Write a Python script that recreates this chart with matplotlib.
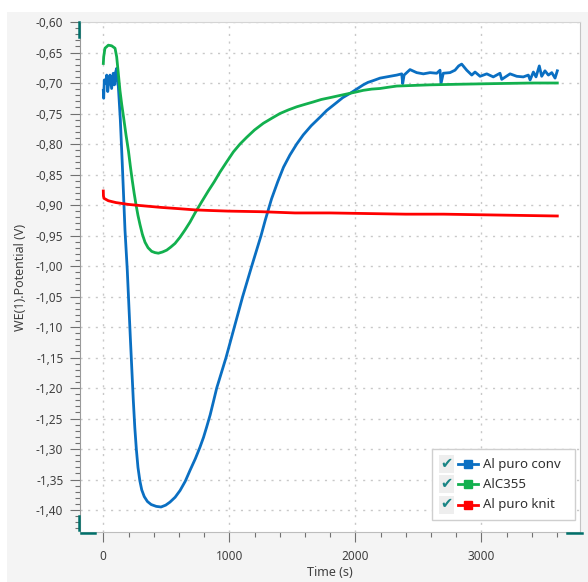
import matplotlib.pyplot as plt
from matplotlib.lines import Line2D
from matplotlib.patches import Rectangle
from matplotlib.ticker import MultipleLocator, FuncFormatter

plt.rcParams['font.family'] = ['Noto Sans', 'DejaVu Sans']

# potential vs time for the three samples
series_names = ['Al puro conv', 'AlC355', 'Al puro knit']
series_colors = ['#0a6fc2', '#12b04e', '#ff0000']

conv_t = [0, 3, 8, 18, 27, 35, 45, 53, 66, 79, 88, 98, 106, 114, 119, 125, 135,
          150, 160, 172, 190, 215, 238, 250, 262, 275, 290, 305, 325, 350, 380,
          420, 458, 495, 529, 570, 609, 650, 688, 730, 767, 795, 820, 848, 873,
          900, 937, 974, 1007, 1040, 1073, 1106, 1142, 1178, 1215, 1252, 1285,
          1335, 1384, 1430, 1481, 1535, 1587, 1650, 1720, 1773, 1852, 1900, 1958,
          2011, 2063, 2100, 2143, 2196, 2275, 2329,
          2368, 2376, 2387, 2434, 2487, 2540, 2593, 2646, 2672, 2680, 2698, 2751,
          2791, 2820, 2844, 2884, 2924, 2950, 2990, 3043, 3095, 3148, 3162, 3228,
          3281, 3333, 3373, 3387, 3413, 3434, 3460, 3479, 3505, 3532, 3559, 3585,
          3603]
conv_v = [-0.712, -0.725, -0.695, -0.700, -0.687, -0.714, -0.695, -0.687, -0.709,
          -0.684, -0.703, -0.682, -0.676, -0.701, -0.705, -0.725, -0.760, -0.830,
          -0.880, -0.941, -1.006, -1.120, -1.220, -1.265, -1.300, -1.330, -1.352,
          -1.367, -1.378, -1.386, -1.391, -1.394, -1.395, -1.392, -1.387, -1.379,
          -1.368, -1.353, -1.335, -1.316, -1.297, -1.281, -1.264, -1.244, -1.223,
          -1.200, -1.175, -1.150, -1.125, -1.100, -1.075, -1.050, -1.025, -1.000,
          -0.975, -0.950, -0.925, -0.890, -0.862, -0.838, -0.818, -0.800, -0.785,
          -0.770, -0.756, -0.745, -0.732, -0.724, -0.717, -0.710, -0.703, -0.699,
          -0.696, -0.692, -0.689, -0.687,
          -0.685, -0.701, -0.687, -0.678, -0.683, -0.685, -0.683, -0.684, -0.679,
          -0.701, -0.684, -0.683, -0.679, -0.672, -0.669, -0.679, -0.687, -0.682,
          -0.689, -0.685, -0.690, -0.684, -0.694, -0.685, -0.689, -0.690, -0.687,
          -0.695, -0.682, -0.690, -0.672, -0.689, -0.680, -0.687, -0.683, -0.692,
          -0.680]

c355_t = [0, 3, 13, 40, 66, 93, 106, 119, 132, 146, 160, 180, 200, 215, 230, 245,
          260, 275, 291, 310, 331, 355, 384, 410, 437, 470, 503, 535, 569, 608,
          648, 688, 728, 780, 833, 880, 926, 980, 1032, 1085, 1138, 1200, 1270,
          1335, 1402, 1470, 1535, 1600, 1667, 1730, 1799, 1865, 1932, 2000, 2063,
          2130, 2196, 2260, 2329, 2460, 2593, 2830, 3100, 3400, 3603]
c355_v = [-0.668, -0.657, -0.643, -0.638, -0.639, -0.643, -0.657, -0.684, -0.712,
          -0.735, -0.755, -0.785, -0.812, -0.837, -0.860, -0.881, -0.900, -0.917,
          -0.932, -0.948, -0.961, -0.970, -0.976, -0.978, -0.979, -0.977, -0.974,
          -0.969, -0.963, -0.953, -0.941, -0.928, -0.913, -0.895, -0.877, -0.862,
          -0.846, -0.829, -0.813, -0.800, -0.789, -0.777, -0.766, -0.758, -0.750,
          -0.744, -0.739, -0.735, -0.731, -0.727, -0.724, -0.721, -0.718, -0.715,
          -0.712, -0.710, -0.709, -0.707, -0.705, -0.704, -0.703, -0.702, -0.701,
          -0.700, -0.700]

knit_t = [0, 1, 5, 40, 100, 198, 300, 463, 600, 728, 850, 992, 1257, 1521, 1800,
          2100, 2400, 2700, 3000, 3300, 3603]
knit_v = [-0.877, -0.885, -0.889, -0.893, -0.896, -0.899, -0.901, -0.904, -0.906,
          -0.908, -0.909, -0.910, -0.911, -0.913, -0.913, -0.914, -0.915, -0.915,
          -0.916, -0.917, -0.918]

fig = plt.figure(figsize=(5.88, 5.82), dpi=100, facecolor='white')
# grey panel behind the plot
fig.add_artist(Rectangle((7 / 588, 0), 1, 1 - 12 / 582, transform=fig.transFigure,
                         facecolor='#f4f4f4', edgecolor='none', zorder=-10))

ax = fig.add_axes([80 / 588, 1 - 532 / 582, 500 / 588, 510 / 582])
ax.set_facecolor('white')

for t, v, c in zip([conv_t, c355_t, knit_t], [conv_v, c355_v, knit_v], series_colors):
    ax.plot(t, v, color=c, lw=2.0, solid_joinstyle='round')

ax.set_xlim(-185, 3783)
ax.set_ylim(-1.436, -0.60)

ax.xaxis.set_major_locator(MultipleLocator(1000))
ax.xaxis.set_minor_locator(MultipleLocator(200))
ax.yaxis.set_major_locator(MultipleLocator(0.05))
ax.yaxis.set_minor_locator(MultipleLocator(0.01))
ax.yaxis.set_major_formatter(FuncFormatter(lambda v, p: '{:.2f}'.format(v).replace('.', ',')))

ax.tick_params(which='both', direction='out', color='#707070', width=0.8,
               labelcolor='#404040', labelsize=8.5)
ax.tick_params(which='major', length=7)
ax.tick_params(which='minor', length=3.5)
ax.tick_params(axis='y', which='major', pad=5)
ax.tick_params(axis='x', which='major', pad=6)

ax.grid(which='major', color='#c8c8c8', linestyle=(0, (1.5, 4)), lw=1)

ax.spines['left'].set_color('#9a9a9a')
ax.spines['bottom'].set_color('#bdbdbd')
ax.spines['top'].set_color('#d4d4d4')
ax.spines['right'].set_color('#c4c4c4')

ax.set_xlabel('Time (s)', fontsize=9, color='#404040', labelpad=2)
ax.set_ylabel('WE(1).Potential (V)', fontsize=9, color='#404040', labelpad=6)

# axis range handles in the corners
teal = '#00706a'
handles = [([-0.0026, -0.0026], [1.0, 0.971]),
           ([-0.002, -0.002], [0.032, 0.004]),
           ([0.0014, 0.03], [-0.0025, -0.0025]),
           ([0.973, 1.003], [-0.002, -0.002])]
for hx, hy in handles:
    ax.add_line(Line2D(hx, hy, transform=ax.transAxes, color=teal, lw=1.8,
                       clip_on=False, zorder=5))

# legend box with check marks
ax.add_patch(Rectangle((0.704, 0.0235), 0.286, 0.1395, transform=ax.transAxes,
                       facecolor='white', edgecolor='#cfcfcf', lw=1, zorder=6))
rows = [0.133, 0.094, 0.053]
for name, c, y in zip(series_names, series_colors, rows):
    ax.text(0.733, y, '\u2714', transform=ax.transAxes, color='#1a8585', fontsize=10.5,
            ha='center', va='center', zorder=7,
            bbox=dict(boxstyle='square,pad=0.1', facecolor='#eeeeee', edgecolor='none'))
    ax.add_line(Line2D([0.756, 0.796], [y, y], transform=ax.transAxes, color=c, lw=2,
                       zorder=7))
    ax.add_line(Line2D([0.776], [y], transform=ax.transAxes, color=c, marker='s',
                       markersize=5.5, zorder=8))
    ax.text(0.806, y, name, transform=ax.transAxes, color='#303030', fontsize=9.5,
            ha='left', va='center', zorder=7)

fig.savefig('out.png', dpi=100, facecolor=fig.get_facecolor())
